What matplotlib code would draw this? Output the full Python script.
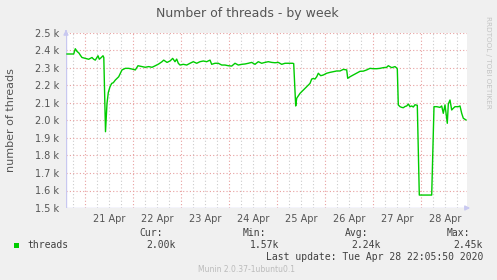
import numpy as np
import matplotlib
matplotlib.use('Agg')
import matplotlib.pyplot as plt

# hours since 21 Apr 2020 00:00, number of threads
hours = [-9.15, -5.8, -5.0, -4.15, -3.15, -2.3, -1.65, 0.0, 1.7, 3.35, 4.2, 5.0, 6.35, 7.0,
         8.0, 8.85, 9.25, 10.1, 10.85, 11.5, 12.35, 13.2, 14.0, 15.0, 16.7, 18.35, 20.0, 21.7,
         23.35, 25.0, 26.35, 28.35, 30.0, 31.7, 33.35, 35.0, 36.7, 38.35, 39.2, 40.85, 42.35,
         43.7, 44.85, 45.7, 46.5, 47.35, 49.0, 50.7, 52.35, 54.0, 55.7, 57.35, 59.0, 60.7,
         62.35, 63.2, 64.85, 66.5, 68.2, 69.85, 71.5, 73.2, 74.85, 76.5, 78.2, 79.85, 81.5,
         83.2, 84.85, 86.5, 88.2, 89.85, 91.5, 93.2, 94.85, 96.5, 98.2, 99.85, 101.5, 103.7,
         104.2, 105.2, 105.7, 107.35, 109.0, 110.7, 112.35, 113.2, 114.0, 114.85, 115.7,
         116.5, 117.7, 119.0, 120.7, 122.35, 124.0, 125.7, 127.35, 129.0, 130.7, 131.2,
         132.35, 134.0, 135.7, 137.35, 139.0, 140.7, 142.35, 144.0, 145.7, 147.35, 149.0,
         150.7, 151.5, 153.2, 154.85, 155.7, 156.0, 156.5, 157.35, 158.2, 159.0, 159.85,
         160.7, 161.5, 162.35, 163.2, 164.0, 164.85, 166.0, 167.0, 173.2, 174.35, 175.7,
         177.35, 178.2, 179.0, 179.85, 181.0, 181.5, 182.35, 183.2, 184.0, 184.85, 186.5,
         187.35, 188.2, 189.0, 190.35]
threads = [2380, 2380, 2410, 2395, 2385, 2370, 2360, 2355, 2350, 2360, 2350, 2345, 2370, 2350,
           2360, 2370, 2360, 1936, 2098, 2160, 2193, 2212, 2216, 2231, 2250, 2289, 2298, 2298,
           2294, 2289, 2313, 2308, 2304, 2308, 2304, 2313, 2323, 2336, 2345, 2332, 2340,
           2355, 2336, 2351, 2327, 2317, 2321, 2317, 2327, 2336, 2327, 2336, 2340, 2336,
           2345, 2321, 2327, 2327, 2317, 2317, 2313, 2311, 2327, 2317, 2321, 2323, 2327,
           2332, 2321, 2336, 2327, 2332, 2336, 2332, 2330, 2332, 2321, 2327, 2327, 2327,
           2325, 2083, 2127, 2155, 2174, 2193, 2212, 2237, 2240, 2237, 2250,
           2270, 2256, 2260, 2270, 2275, 2279, 2283, 2283, 2292, 2289, 2241,
           2250, 2260, 2270, 2281, 2282, 2289, 2298, 2296, 2296, 2298, 2302,
           2304, 2313, 2302, 2308, 2300, 2295, 2089, 2079, 2075, 2073, 2080,
           2083, 2094, 2079, 2083, 2077, 2090, 2087, 1574, 1574, 2079, 2079,
           2075, 2083, 2041, 2089, 1984, 2094, 2117, 2060, 2070, 2079, 2079,
           2083, 2041, 2013, 2003]

day_labels = ['21 Apr', '22 Apr', '23 Apr', '24 Apr', '25 Apr', '26 Apr', '27 Apr', '28 Apr']
yticks = [1500, 1600, 1700, 1800, 1900, 2000, 2100, 2200, 2300, 2400, 2500]

W, H = 497, 280
fig = plt.figure(figsize=(W / 100, H / 100), dpi=100, facecolor='#f0f0f0')

def px(x, y):
    return x / W, 1 - y / H

l, r, t, b = 66, 467, 33, 208
ax = fig.add_axes([l / W, 1 - b / H, (r - l) / W, (b - t) / H])
ax.set_facecolor('white')

xmin, xmax = (l - 85.3) / 2, (r - 85.3) / 2
ax.set_xlim(xmin, xmax)
ax.set_ylim(1500, 2500)

# grid: gray every 6h, red at midnight, red every 100 threads
for h in range(-6, 192, 6):
    if h % 24 == 0:
        ax.axvline(h, color='#e8a0a0', lw=0.8, ls=(0, (1, 2)), zorder=1)
    else:
        ax.axvline(h, color='#cccccc', lw=0.8, ls=(0, (1, 2)), zorder=1)
for v in yticks[1:]:
    ax.axhline(v, color='#e8a0a0', lw=0.8, ls=(0, (1, 2)), zorder=1)

ax.plot(hours, threads, color='#00cc00', lw=1.0, zorder=3)

for s in ax.spines.values():
    s.set_visible(False)
ax.axvline(xmin, color='#c8c8f0', lw=1, zorder=2)
ax.axhline(1500, color='#c8c8f0', lw=1, zorder=2)
ax.annotate('', xy=(0, 1.035), xytext=(0, 0.99), xycoords='axes fraction',
            arrowprops=dict(arrowstyle='-|>', color='#c8c8f0', lw=1, mutation_scale=7))
ax.annotate('', xy=(1.015, 0), xytext=(0.99, 0), xycoords='axes fraction',
            arrowprops=dict(arrowstyle='-|>', color='#c8c8f0', lw=1, mutation_scale=7))

ax.set_yticks(yticks, ['%.1f k' % (v / 1000) for v in yticks])
ax.set_xticks([12 + 24 * i for i in range(len(day_labels))], day_labels)
ax.tick_params(length=0, labelsize=7, colors='#555555', pad=4)
ax.tick_params(axis='y', pad=5)

fig.text(*px(247, 13), 'Number of threads - by week', ha='center', va='center',
         fontsize=9, color='#555555')
fig.text(*px(11, 120), 'number of threads', ha='center', va='center', rotation=90,
         fontsize=8, color='#555555')
fig.text(*px(488, 16), 'RRDTOOL / TOBI OETIKER', ha='center', va='top', rotation=270,
         fontsize=5.2, color='#c4c4c4')

mono = dict(family='DejaVu Sans Mono', fontsize=7, color='#404040', va='center')
for xh, txt in [(163, 'Cur:'), (266, 'Min:'), (368, 'Avg:'), (470, 'Max:')]:
    fig.text(*px(xh, 233), txt, ha='right', **mono)
fig.patches.append(plt.Rectangle(px(14, 248), 5 / W, 5 / H, transform=fig.transFigure,
                                 facecolor='#00cc00', edgecolor='none'))
fig.text(*px(27, 245), 'threads', ha='left', **mono)
for xv, txt in [(176, '2.00k'), (279, '1.57k'), (381, '2.24k'), (483, '2.45k')]:
    fig.text(*px(xv, 245), txt, ha='right', **mono)
fig.text(*px(483, 257), 'Last update: Tue Apr 28 22:05:50 2020', ha='right', **mono)
fig.text(*px(247, 269), 'Munin 2.0.37-1ubuntu0.1', ha='center', va='center',
         fontsize=5.5, color='#bbbbbb')

fig.savefig('out.png', dpi=100, facecolor=fig.get_facecolor())
